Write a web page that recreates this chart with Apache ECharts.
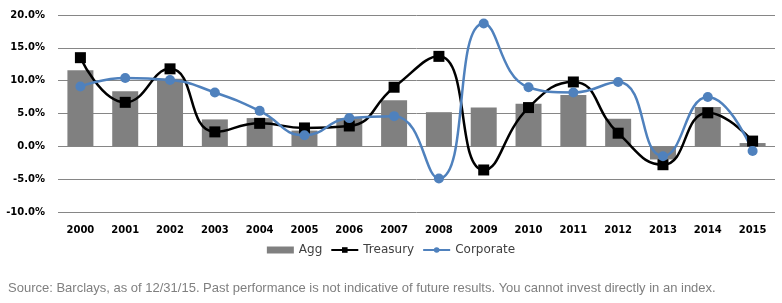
<!DOCTYPE html>
<html>
<head>
<meta charset="utf-8">
<script src="https://cdn.jsdelivr.net/npm/echarts@6/dist/echarts.min.js"></script>
<style>
html,body{margin:0;padding:0;background:#fff;}
#c{width:782px;height:303px;}
</style>
</head>
<body>
<div id="c"></div>
<script>
var years = ['2000','2001','2002','2003','2004','2005','2006','2007','2008','2009','2010','2011','2012','2013','2014','2015'];
var agg = [11.6, 8.4, 10.3, 4.1, 4.3, 2.4, 4.3, 7.0, 5.2, 5.9, 6.5, 7.8, 4.2, -2.0, 6.0, 0.5];
var treasury = [13.5, 6.7, 11.8, 2.2, 3.5, 2.8, 3.1, 9.0, 13.7, -3.6, 5.9, 9.8, 2.0, -2.8, 5.1, 0.8];
var corporate = [9.1, 10.4, 10.1, 8.2, 5.4, 1.7, 4.3, 4.6, -4.9, 18.7, 9.0, 8.2, 9.8, -1.5, 7.5, -0.7];
var sourceText = 'Source: Barclays, as of 12/31/15. Past performance is not indicative of future results. You cannot invest directly in an index.';

var chart = echarts.init(document.getElementById('c'));
chart.setOption({
  animation: false,
  grid: {left: 58, right: 7, top: 15, bottom: 91},
  legend: {
    top: 239, left: 'center',
    itemWidth: 27, itemHeight: 7, itemGap: 8,
    textStyle: {fontFamily: 'DejaVu Sans', fontSize: 12, color: '#404040'},
    data: [
      {name: 'Agg', icon: 'rect'},
      {name: 'Treasury'},
      {name: 'Corporate'}
    ]
  },
  graphic: [{
    type: 'text', left: 8, top: 282,
    style: {text: sourceText, fill: '#7f7f7f', font: '13px "Liberation Sans", sans-serif'}
  }],
  xAxis: {
    type: 'category', data: years,
    axisLine: {show: false}, axisTick: {show: false},
    axisLabel: {fontFamily: 'DejaVu Sans', fontWeight: 'bold', fontSize: 10, color: '#000', margin: 13}
  },
  yAxis: {
    type: 'value', min: -10, max: 20, interval: 5,
    axisLine: {show: false}, axisTick: {show: false},
    splitLine: {lineStyle: {color: '#868686', width: 1}},
    axisLabel: {fontFamily: 'DejaVu Sans', fontWeight: 'bold', fontSize: 10, color: '#000', margin: 13,
      formatter: function(v){ return v.toFixed(1) + '%'; }}
  },
  series: [
    {name: 'Agg', type: 'bar', data: agg, barWidth: 26, itemStyle: {color: '#808080'}},
    {name: 'Treasury', type: 'line', data: treasury, smooth: 0.5,
      symbol: 'rect', symbolSize: 11, lineStyle: {color: '#000', width: 2.5},
      itemStyle: {color: '#000'}},
    {name: 'Corporate', type: 'line', data: corporate, smooth: 0.5,
      symbol: 'circle', symbolSize: 10, lineStyle: {color: '#4f81bd', width: 2.5},
      itemStyle: {color: '#4f81bd'}}
  ]
});
</script>
</body>
</html>
